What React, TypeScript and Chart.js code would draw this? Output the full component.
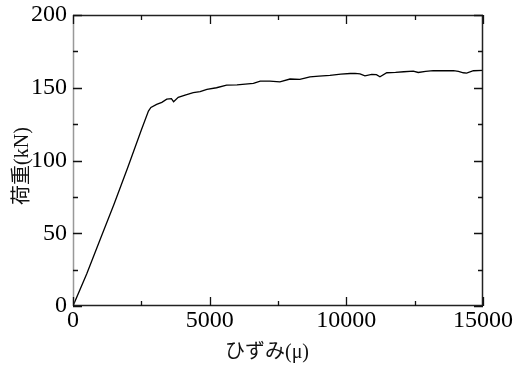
import React, { useEffect, useRef } from "react";
import { Chart, registerables } from "chart.js";

Chart.register(...registerables);

const strain = [0, 500, 1000, 1500, 2000, 2500, 2760, 2850, 3060, 3250, 3430, 3600, 3680, 3850, 4100, 4400, 4650, 4900, 5250, 5620, 6000, 6300, 6600, 6850, 7200, 7570, 7940, 8300, 8670, 9000, 9400, 9800, 10140, 10320, 10500, 10680, 10930, 11100, 11230, 11480, 11800, 12100, 12450, 12630, 12900, 13180, 13500, 13920, 14100, 14280, 14400, 14650, 15000];
const load = [0, 22, 46, 70, 95, 121, 134, 136.5, 138.6, 140, 142.2, 142.5, 140.4, 143.4, 145, 146.6, 147.3, 148.9, 150, 151.8, 152, 152.5, 153, 154.6, 154.5, 154.1, 156, 155.7, 157.5, 158, 158.5, 159.3, 159.8, 159.9, 159.5, 158.2, 159.2, 159, 157.6, 160.3, 160.5, 161, 161.4, 160.5, 161.2, 161.7, 161.8, 161.7, 161.2, 160.3, 160.1, 161.7, 162];
const xTicks = [0, 5000, 10000, 15000];
const yTicks = [0, 50, 100, 150, 200];
const xTitle = "ひずみ(μ)";
const yTitle = "荷重(kN)";

const SERIF = "'Liberation Serif', 'Times New Roman', serif";
const TITLE_FONT = "20px 'Liberation Serif', 'Noto Sans CJK JP', serif";

const framePlugin = {
  id: "frame",
  afterDraw(chart: any) {
    const { ctx, chartArea: a, scales } = chart;
    const xs = scales.x;
    const ys = scales.y;
    ctx.save();
    ctx.lineWidth = 1.5;
    ctx.strokeStyle = "#999";
    ctx.beginPath();
    ctx.moveTo(a.left + 0.5, a.top);
    ctx.lineTo(a.left + 0.5, a.bottom);
    ctx.stroke();
    ctx.strokeStyle = "#222";
    ctx.beginPath();
    ctx.moveTo(a.left, a.top + 0.5);
    ctx.lineTo(a.right, a.top + 0.5);
    ctx.moveTo(a.right - 0.5, a.top);
    ctx.lineTo(a.right - 0.5, a.bottom);
    ctx.moveTo(a.left, a.bottom - 0.5);
    ctx.lineTo(a.right, a.bottom - 0.5);
    ctx.stroke();
    ctx.strokeStyle = "#111";
    ctx.lineWidth = 1.3;
    ctx.beginPath();
    for (let i = 0; i < xTicks.length; i++) {
      const v = xTicks[i];
      const px = Math.round(xs.getPixelForValue(v)) + 0.5;
      ctx.moveTo(px, a.bottom);
      ctx.lineTo(px, a.bottom - 9);
      ctx.moveTo(px, a.top);
      ctx.lineTo(px, a.top + 9);
      if (i < xTicks.length - 1) {
        const m = Math.round(xs.getPixelForValue((v + xTicks[i + 1]) / 2)) + 0.5;
        ctx.moveTo(m, a.bottom);
        ctx.lineTo(m, a.bottom - 5);
        ctx.moveTo(m, a.top);
        ctx.lineTo(m, a.top + 5);
      }
    }
    for (let i = 0; i < yTicks.length; i++) {
      const v = yTicks[i];
      const py = Math.round(ys.getPixelForValue(v)) + 0.5;
      ctx.moveTo(a.left, py);
      ctx.lineTo(a.left + 9, py);
      ctx.moveTo(a.right, py);
      ctx.lineTo(a.right - 9, py);
      if (i < yTicks.length - 1) {
        const m = Math.round(ys.getPixelForValue((v + yTicks[i + 1]) / 2)) + 0.5;
        ctx.moveTo(a.left, m);
        ctx.lineTo(a.left + 5, m);
        ctx.moveTo(a.right, m);
        ctx.lineTo(a.right - 5, m);
      }
    }
    ctx.stroke();
    ctx.fillStyle = "#111";
    ctx.font = TITLE_FONT;
    ctx.textAlign = "center";
    ctx.textBaseline = "middle";
    ctx.fillText(xTitle, 267, 353);
    ctx.translate(23, 166);
    ctx.rotate(-Math.PI / 2);
    ctx.fillText(yTitle, 0, 0);
    ctx.restore();
  },
};

export default function App() {
  const ref = useRef<HTMLCanvasElement>(null);
  useEffect(() => {
    const canvas = ref.current!;
    const chart = new Chart(canvas, {
      type: "line",
      data: {
        datasets: [
          {
            data: strain.map((s, i) => ({ x: s, y: load[i] })),
            borderColor: "#000",
            borderWidth: 1.3,
            pointRadius: 0,
            tension: 0,
            fill: false,
          },
        ],
      },
      options: {
        animation: false,
        responsive: false,
        events: [],
        layout: { padding: { top: 15, right: 36, left: 0, bottom: 0 } },
        plugins: { legend: { display: false }, tooltip: { enabled: false } },
        scales: {
          x: {
            type: "linear",
            min: 0,
            max: 15000,
            afterBuildTicks: (s: any) => {
              s.ticks = xTicks.map((v) => ({ value: v }));
            },
            afterFit: (s: any) => {
              s.height = 61;
              s.paddingLeft = 0;
              s.paddingRight = 0;
            },
            grid: { display: false, drawTicks: false },
            border: { display: false },
            ticks: {
              color: "#000",
              padding: 0,
              maxRotation: 0,
              autoSkip: false,
              callback: (v: any) => String(v),
              font: { family: SERIF, size: 24 },
            },
          },
          y: {
            type: "linear",
            min: 0,
            max: 200,
            afterBuildTicks: (s: any) => {
              s.ticks = yTicks.map((v) => ({ value: v }));
            },
            afterFit: (s: any) => {
              s.width = 73;
              s.paddingTop = 0;
              s.paddingBottom = 0;
            },
            grid: { display: false, drawTicks: false },
            border: { display: false },
            ticks: {
              color: "#000",
              padding: 6,
              autoSkip: false,
              callback: (v: any) => String(v),
              font: { family: SERIF, size: 24 },
            },
          },
        },
      },
      plugins: [framePlugin],
    });
    return () => chart.destroy();
  }, []);
  return (
    <div style={{ position: "fixed", left: 0, top: 0, width: 519, height: 367, background: "#fff" }}>
      <canvas ref={ref} width={519} height={367} style={{ width: 519, height: 367, display: "block" }} />
    </div>
  );
}
